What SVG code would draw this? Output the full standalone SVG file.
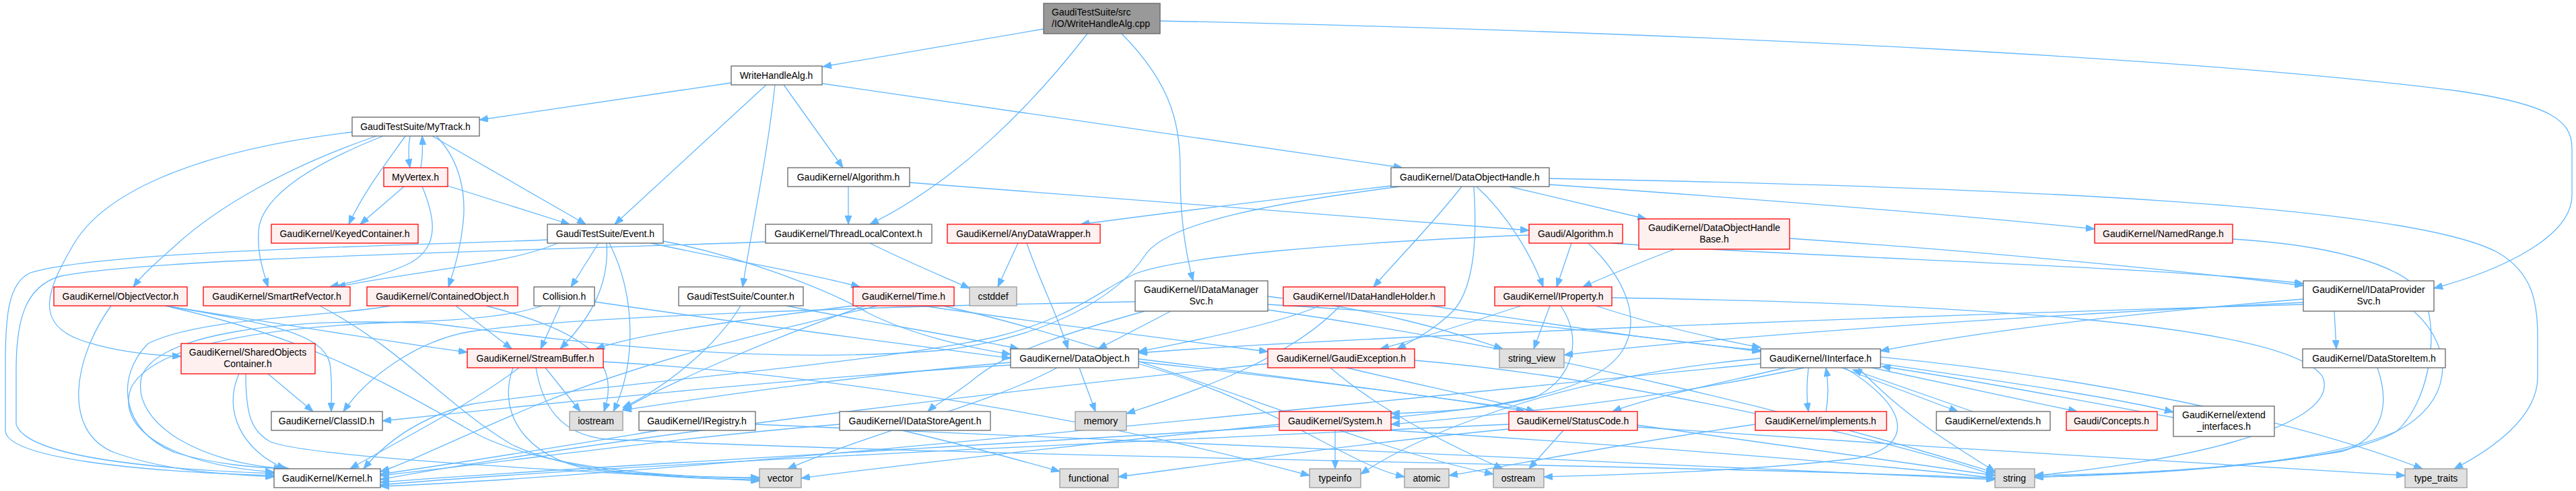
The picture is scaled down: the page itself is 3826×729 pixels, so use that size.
<svg xmlns="http://www.w3.org/2000/svg" width="3826" height="729" viewBox="0 0 3826 729">
<style>
rect{stroke-width:1.3}
.w rect{fill:#ffffff;stroke:#666666}
.r rect{fill:#fff0f0;stroke:#ff0000}
.g rect{fill:#e0e0e0;stroke:#999999}
.rt rect{fill:#999999;stroke:#666666}
text{font-family:"Liberation Sans",Arial,sans-serif;font-size:14px;fill:#000000;text-anchor:middle}
.rt text{text-anchor:start}
#edges path{fill:none;stroke:#63b8ff;stroke-width:1.3;marker-end:url(#a)}
</style>
<defs>
<marker id="a" markerUnits="userSpaceOnUse" markerWidth="14" markerHeight="10" refX="13" refY="5" orient="auto">
<path d="M0,0 L13,5 L0,10 z" fill="#63b8ff" stroke="#63b8ff" stroke-width="1"/>
</marker>
</defs>
<rect x="0" y="0" width="3826" height="729" fill="#ffffff"/>
<g id="edges">
<path d="M1550,43 L1222,99"/>
<path d="M1615,50 C1530,160 1420,270 1292,333"/>
<path d="M1666,50 C1745,130 1753,190 1753,260 C1753,330 1762,380 1772,417"/>
<path d="M1723,31 C2600,50 3300,90 3650,135 C3790,155 3820,180 3820,220 L3820,290 C3820,350 3720,400 3615,428"/>
<path d="M1086,123 L712,178"/>
<path d="M1138,126 L913,333"/>
<path d="M1151,126 C1140,230 1118,330 1103,426"/>
<path d="M1164,126 L1252,249"/>
<path d="M1221,124 L2083,249"/>
<path d="M523,196 C280,225 150,290 108,365 C70,430 50,480 120,505 C170,522 220,527 269,529"/>
<path d="M559,202 C420,250 320,310 261,364 C232,390 212,407 198,426"/>
<path d="M569,202 C460,245 395,290 385,335 C380,370 390,400 398,426"/>
<path d="M602,202 C575,240 540,285 518,333"/>
<path d="M609,202 C606,220 606,232 609,249"/>
<path d="M625,249 C628,232 628,218 627,202"/>
<path d="M600,277 L535,333"/>
<path d="M627,277 C645,320 655,365 610,390 C570,410 525,418 490,426"/>
<path d="M665,276 L846,333"/>
<path d="M642,202 L870,333"/>
<path d="M648,202 C685,240 692,290 688,330 C684,370 675,400 666,426"/>
<path d="M828,361 C760,392 600,405 500,426"/>
<path d="M889,361 L848,426"/>
<path d="M901,361 C905,420 880,470 832,518"/>
<path d="M905,361 C945,440 945,540 911,611"/>
<path d="M967,361 C1100,390 1200,405 1277,426"/>
<path d="M985,358 C1100,380 1230,430 1290,465 C1350,495 1430,515 1501,526"/>
<path d="M813,356 C600,365 150,372 45,405 C12,420 8,470 8,540 L8,640 C12,680 200,700 407,706"/>
<path d="M1260,277 L1260,333"/>
<path d="M1351,271 C1700,300 2000,322 2271,342"/>
<path d="M1292,361 C1350,390 1400,410 1440,428"/>
<path d="M1137,359 C800,372 220,383 90,410 C35,425 24,480 24,550 L24,630 C40,680 240,697 407,703"/>
<path d="M2066,276 C1900,295 1750,314 1605,333"/>
<path d="M2171,277 C2130,330 2080,380 2040,426"/>
<path d="M2189,277 C2193,340 2193,420 2160,460 C2130,490 2100,505 2075,518"/>
<path d="M2193,277 C2240,320 2275,380 2292,426"/>
<path d="M2242,277 L2445,325"/>
<path d="M2301,274 C2600,295 2900,318 3111,340"/>
<path d="M2301,265 C3000,278 3580,305 3710,375 C3762,405 3769,450 3769,500 L3769,560 C3769,620 3700,668 3645,696"/>
<path d="M2079,277 C1900,300 1730,330 1700,380 C1660,440 1560,500 1400,520 C1100,545 800,500 640,480 C400,470 230,500 210,560 C195,630 300,690 430,696"/>
<path d="M1512,361 L1482,426"/>
<path d="M1525,361 C1545,420 1572,470 1586,518"/>
<path d="M2334,361 L2312,426"/>
<path d="M2359,361 C2410,410 2440,470 2410,520 C2370,585 2220,605 2066,620"/>
<path d="M2393,361 C2700,383 3200,395 3421,421"/>
<path d="M2271,349 C2000,360 1760,380 1690,405 C1640,425 1600,470 1480,500 C1300,540 900,570 700,600 C620,620 570,660 540,696"/>
<path d="M2487,370 C2430,392 2390,408 2351,426"/>
<path d="M2658,354 C2900,370 3200,397 3421,424"/>
<path d="M3316,355 C3450,363 3570,390 3600,440 C3625,500 3605,600 3560,640 C3480,690 3200,703 3022,706"/>
<path d="M165,454 C110,530 90,640 170,672 C250,700 330,704 407,708"/>
<path d="M245,454 C400,480 480,495 490,540 C494,570 492,590 492,611"/>
<path d="M245,454 C400,478 560,505 694,523"/>
<path d="M253,456 C450,500 560,560 700,640 C800,697 1000,709 1128,710"/>
<path d="M475,454 C600,520 660,600 760,660 C850,703 1000,711 1128,712"/>
<path d="M398,555 L465,611"/>
<path d="M355,555 C330,610 360,670 424,696"/>
<path d="M365,555 C365,620 375,640 400,655 C450,680 900,702 1128,714"/>
<path d="M677,454 L760,518"/>
<path d="M722,454 C860,490 925,530 897,611"/>
<path d="M580,454 C500,470 300,470 220,510 C170,560 180,640 260,672 C320,690 380,694 420,696"/>
<path d="M1686,448 C1300,455 850,470 700,492 C620,505 545,560 510,611"/>
<path d="M832,454 L803,518"/>
<path d="M805,454 C760,470 680,476 600,478 C400,485 230,510 195,575 C170,640 260,690 407,701"/>
<path d="M883,448 C1100,480 1300,505 1501,532"/>
<path d="M1100,454 C1060,520 980,580 925,605"/>
<path d="M1168,454 C1300,480 1430,500 1513,518"/>
<path d="M1267,454 C1100,475 950,495 885,518"/>
<path d="M1285,454 C1150,500 990,570 925,608"/>
<path d="M1303,454 C1200,480 1000,520 800,600 C680,650 600,690 565,700"/>
<path d="M1370,454 C1550,480 1750,505 1883,522"/>
<path d="M1400,454 C1700,520 2000,660 2218,704"/>
<path d="M771,546 C700,600 600,650 520,696"/>
<path d="M762,546 C735,620 790,690 900,700 C1000,707 1080,709 1128,709"/>
<path d="M810,546 L862,611"/>
<path d="M796,546 C805,600 830,645 900,652 C1500,680 2500,690 2963,710"/>
<path d="M896,537 C1300,560 1700,640 1945,706"/>
<path d="M1122,630 C1600,650 2500,690 2963,712"/>
<path d="M978,639 C850,660 700,685 565,704"/>
<path d="M1340,639 C1450,665 1520,685 1574,700"/>
<path d="M1247,630 C1000,650 800,680 565,706"/>
<path d="M1700,462 C1600,490 1500,520 1450,560 C1420,585 1390,600 1378,611"/>
<path d="M1739,462 L1631,518"/>
<path d="M1883,452 C2200,470 2450,500 2615,522"/>
<path d="M1883,460 C2300,520 2700,620 2963,702"/>
<path d="M1883,440 C2050,460 2150,490 2232,518"/>
<path d="M1501,542 C1200,560 800,600 568,625"/>
<path d="M1603,546 L1627,611"/>
<path d="M1691,533 C2000,570 2500,640 2963,706"/>
<path d="M1570,546 C1470,600 1300,640 1170,696"/>
<path d="M1501,538 C1250,560 1050,590 925,609"/>
<path d="M1691,537 C1900,560 2150,590 2265,611"/>
<path d="M1691,540 C1900,600 2000,690 2086,708"/>
<path d="M1976,546 C2050,610 2150,660 2232,696"/>
<path d="M2000,546 C2100,570 2200,590 2280,611"/>
<path d="M1883,540 C1500,580 900,650 565,712"/>
<path d="M2101,535 C2400,560 2800,650 2963,706"/>
<path d="M1983,639 L1983,696"/>
<path d="M1900,633 C1500,660 900,690 565,716"/>
<path d="M2066,639 C2400,660 2800,690 2963,710"/>
<path d="M1900,630 C1600,660 1300,695 1190,710"/>
<path d="M2322,639 L2271,696"/>
<path d="M2241,637 C2000,660 1800,690 1661,708"/>
<path d="M2432,634 C2800,660 3300,690 3572,706"/>
<path d="M2241,630 C1800,650 900,690 565,720"/>
<path d="M2686,546 C2683,570 2683,590 2686,611"/>
<path d="M2712,611 C2716,590 2716,570 2712,546"/>
<path d="M2735,546 L2908,611"/>
<path d="M2930,611 L2752,549"/>
<path d="M2780,546 L3085,611"/>
<path d="M2793,540 C3000,570 3150,592 3228,612"/>
<path d="M3228,620 C3100,597 2950,567 2795,544"/>
<path d="M2793,530 C3100,560 3400,620 3598,696"/>
<path d="M2652,546 C2550,570 2450,590 2395,611"/>
<path d="M2680,546 C2500,585 2300,610 2066,630"/>
<path d="M2760,546 C2830,620 2900,660 2963,700"/>
<path d="M2740,546 C2830,600 2850,660 2760,680 C2600,700 2400,705 2293,708"/>
<path d="M2615,532 C2300,560 2100,650 2021,704"/>
<path d="M2615,540 C2000,600 1000,705 565,722"/>
<path d="M2124,454 C2300,480 2450,505 2615,520"/>
<path d="M1960,454 C1900,480 1780,505 1691,522"/>
<path d="M1990,454 C1920,530 1780,580 1673,614"/>
<path d="M2370,454 C2450,480 2530,500 2615,516"/>
<path d="M2302,454 L2278,518"/>
<path d="M2394,442 C2900,450 3400,480 3450,560 C3480,640 3200,690 3022,706"/>
<path d="M2259,454 C2180,480 2100,505 2050,518"/>
<path d="M2318,454 C2350,500 2340,560 2280,590 C2200,610 2120,612 2066,614"/>
<path d="M3467,462 L3470,518"/>
<path d="M3421,444 C3100,470 2900,500 2793,521"/>
<path d="M3421,452 C2800,470 2000,500 1691,524"/>
<path d="M3585,462 C3650,520 3640,600 3560,640 C3450,690 3200,705 3022,708"/>
<path d="M3421,449 C3000,470 2600,495 2323,527"/>
<path d="M3531,546 C3550,600 3540,650 3480,670 C3300,700 3100,705 3022,709"/>
<path d="M2607,630 C2400,660 2250,690 2152,706"/>
</g>
<g id="n_root" class="rt"><rect x="1550" y="5" width="173" height="45"/><text x="1562" y="23">GaudiTestSuite/src</text><text x="1562" y="40">/IO/WriteHandleAlg.cpp</text></g>
<g id="n_wha" class="w"><rect x="1086" y="98" width="135" height="28"/><text x="1153" y="117">WriteHandleAlg.h</text></g>
<g id="n_mytrack" class="w"><rect x="523" y="174" width="189" height="28"/><text x="617" y="193">GaudiTestSuite/MyTrack.h</text></g>
<g id="n_myvertex" class="r"><rect x="570" y="249" width="95" height="28"/><text x="617" y="268">MyVertex.h</text></g>
<g id="n_gkalg" class="w"><rect x="1170" y="249" width="181" height="28"/><text x="1260" y="268">GaudiKernel/Algorithm.h</text></g>
<g id="n_doh" class="w"><rect x="2066" y="249" width="235" height="28"/><text x="2183" y="268">GaudiKernel/DataObjectHandle.h</text></g>
<g id="n_keyed" class="r"><rect x="403" y="333" width="218" height="28"/><text x="512" y="352">GaudiKernel/KeyedContainer.h</text></g>
<g id="n_event" class="w"><rect x="813" y="333" width="172" height="28"/><text x="899" y="352">GaudiTestSuite/Event.h</text></g>
<g id="n_tlc" class="w"><rect x="1137" y="333" width="247" height="28"/><text x="1260" y="352">GaudiKernel/ThreadLocalContext.h</text></g>
<g id="n_anydw" class="r"><rect x="1407" y="333" width="227" height="28"/><text x="1520" y="352">GaudiKernel/AnyDataWrapper.h</text></g>
<g id="n_galg" class="r"><rect x="2271" y="333" width="139" height="28"/><text x="2340" y="352">Gaudi/Algorithm.h</text></g>
<g id="n_dohb" class="r"><rect x="2434" y="325" width="224" height="45"/><text x="2546" y="343">GaudiKernel/DataObjectHandle</text><text x="2546" y="360">Base.h</text></g>
<g id="n_named" class="r"><rect x="3111" y="333" width="205" height="28"/><text x="3213" y="352">GaudiKernel/NamedRange.h</text></g>
<g id="n_objvec" class="r"><rect x="80" y="426" width="198" height="28"/><text x="179" y="445">GaudiKernel/ObjectVector.h</text></g>
<g id="n_srv" class="r"><rect x="302" y="426" width="218" height="28"/><text x="411" y="445">GaudiKernel/SmartRefVector.h</text></g>
<g id="n_contained" class="r"><rect x="545" y="426" width="224" height="28"/><text x="657" y="445">GaudiKernel/ContainedObject.h</text></g>
<g id="n_collision" class="w"><rect x="793" y="426" width="90" height="28"/><text x="838" y="445">Collision.h</text></g>
<g id="n_counter" class="w"><rect x="1008" y="426" width="185" height="28"/><text x="1100" y="445">GaudiTestSuite/Counter.h</text></g>
<g id="n_time" class="r"><rect x="1267" y="426" width="150" height="28"/><text x="1342" y="445">GaudiKernel/Time.h</text></g>
<g id="n_cstddef" class="g"><rect x="1440" y="426" width="70" height="28"/><text x="1475" y="445">cstddef</text></g>
<g id="n_idms" class="w"><rect x="1686" y="417" width="197" height="45"/><text x="1784" y="435">GaudiKernel/IDataManager</text><text x="1784" y="452">Svc.h</text></g>
<g id="n_idhh" class="r"><rect x="1906" y="426" width="240" height="28"/><text x="2026" y="445">GaudiKernel/IDataHandleHolder.h</text></g>
<g id="n_iprop" class="r"><rect x="2220" y="426" width="174" height="28"/><text x="2307" y="445">GaudiKernel/IProperty.h</text></g>
<g id="n_idps" class="w"><rect x="3421" y="417" width="194" height="45"/><text x="3518" y="435">GaudiKernel/IDataProvider</text><text x="3518" y="452">Svc.h</text></g>
<g id="n_soc" class="r"><rect x="269" y="510" width="199" height="45"/><text x="368" y="528">GaudiKernel/SharedObjects</text><text x="368" y="545">Container.h</text></g>
<g id="n_streambuf" class="r"><rect x="694" y="518" width="202" height="28"/><text x="795" y="537">GaudiKernel/StreamBuffer.h</text></g>
<g id="n_dataobj" class="w"><rect x="1501" y="518" width="190" height="28"/><text x="1596" y="537">GaudiKernel/DataObject.h</text></g>
<g id="n_gexc" class="r"><rect x="1883" y="518" width="218" height="28"/><text x="1992" y="537">GaudiKernel/GaudiException.h</text></g>
<g id="n_sview" class="g"><rect x="2227" y="518" width="96" height="28"/><text x="2275" y="537">string_view</text></g>
<g id="n_iinterface" class="w"><rect x="2615" y="518" width="178" height="28"/><text x="2704" y="537">GaudiKernel/IInterface.h</text></g>
<g id="n_dsi" class="w"><rect x="3420" y="518" width="212" height="28"/><text x="3526" y="537">GaudiKernel/DataStoreItem.h</text></g>
<g id="n_classid" class="w"><rect x="403" y="611" width="165" height="28"/><text x="485" y="630">GaudiKernel/ClassID.h</text></g>
<g id="n_iostream" class="g"><rect x="846" y="611" width="79" height="28"/><text x="885" y="630">iostream</text></g>
<g id="n_iregistry" class="w"><rect x="949" y="611" width="173" height="28"/><text x="1035" y="630">GaudiKernel/IRegistry.h</text></g>
<g id="n_idsa" class="w"><rect x="1247" y="611" width="224" height="28"/><text x="1359" y="630">GaudiKernel/IDataStoreAgent.h</text></g>
<g id="n_memory" class="g"><rect x="1597" y="611" width="76" height="28"/><text x="1635" y="630">memory</text></g>
<g id="n_system" class="r"><rect x="1900" y="611" width="166" height="28"/><text x="1983" y="630">GaudiKernel/System.h</text></g>
<g id="n_status" class="r"><rect x="2241" y="611" width="191" height="28"/><text x="2336" y="630">GaudiKernel/StatusCode.h</text></g>
<g id="n_implements" class="r"><rect x="2607" y="611" width="195" height="28"/><text x="2704" y="630">GaudiKernel/implements.h</text></g>
<g id="n_extends" class="w"><rect x="2876" y="611" width="169" height="28"/><text x="2960" y="630">GaudiKernel/extends.h</text></g>
<g id="n_concepts" class="r"><rect x="3069" y="611" width="135" height="28"/><text x="3136" y="630">Gaudi/Concepts.h</text></g>
<g id="n_extif" class="w"><rect x="3228" y="603" width="150" height="45"/><text x="3303" y="621">GaudiKernel/extend</text><text x="3303" y="638">_interfaces.h</text></g>
<g id="n_kernel" class="w"><rect x="407" y="696" width="158" height="28"/><text x="486" y="715">GaudiKernel/Kernel.h</text></g>
<g id="n_vector" class="g"><rect x="1128" y="696" width="62" height="28"/><text x="1159" y="715">vector</text></g>
<g id="n_functional" class="g"><rect x="1574" y="696" width="87" height="28"/><text x="1617" y="715">functional</text></g>
<g id="n_typeinfo" class="g"><rect x="1945" y="696" width="76" height="28"/><text x="1983" y="715">typeinfo</text></g>
<g id="n_atomic" class="g"><rect x="2086" y="696" width="66" height="28"/><text x="2119" y="715">atomic</text></g>
<g id="n_ostream" class="g"><rect x="2218" y="696" width="75" height="28"/><text x="2255" y="715">ostream</text></g>
<g id="n_string" class="g"><rect x="2963" y="696" width="59" height="28"/><text x="2992" y="715">string</text></g>
<g id="n_typetraits" class="g"><rect x="3572" y="696" width="92" height="28"/><text x="3618" y="715">type_traits</text></g>
</svg>
